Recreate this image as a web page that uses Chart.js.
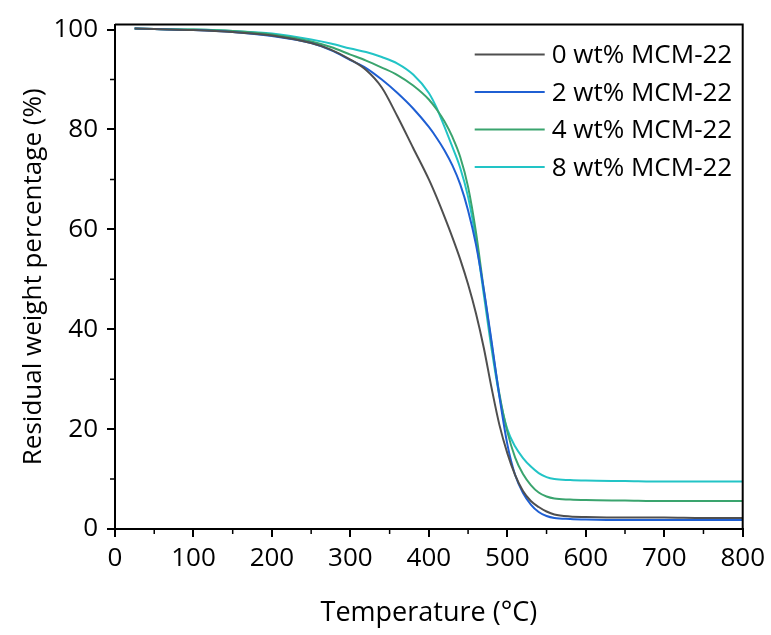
<!DOCTYPE html>
<html>
<head>
<meta charset="utf-8">
<script src="https://cdn.jsdelivr.net/npm/chart.js@4"></script>
<style>
html,body{margin:0;padding:0;background:#fff;}
#wrap{width:771px;height:635px;position:relative;}
</style>
</head>
<body>
<div id="wrap"><canvas id="c" width="771" height="635"></canvas></div>
<script>
const temperatures = [25,50,100,150,200,250,275,300,320,340,360,380,400,410,420,430,440,450,460,470,480,490,500,510,520,530,540,550,560,580,600,650,700,750,800];
const wt0 = [100.2,100.1,99.9,99.5,98.8,97.3,96.0,94.0,91.9,88.4,82.6,76.3,70.0,66.4,62.5,58.4,54.0,49.0,43.2,36.3,28.2,20.8,15.2,10.8,7.6,5.6,4.4,3.5,2.9,2.5,2.4,2.3,2.3,2.2,2.2];
const wt2 = [100.2,100.1,99.9,99.5,98.7,97.3,95.9,93.9,92.3,90.0,87.3,84.2,80.5,78.3,75.8,72.8,69.0,63.8,57.0,48.0,37.5,26.5,17.0,10.8,7.2,4.9,3.4,2.6,2.2,2.0,1.9,1.8,1.8,1.8,1.8];
const wt4 = [100.2,100.1,100.0,99.7,99.0,97.6,96.5,95.0,93.8,92.4,90.9,88.8,86.0,84.0,81.6,78.5,74.5,68.5,59.5,48.0,37.0,27.0,19.5,14.3,11.0,8.8,7.3,6.5,6.1,5.9,5.8,5.7,5.6,5.6,5.6];
const wt8 = [100.2,100.1,100.0,99.7,99.2,98.0,97.2,96.2,95.5,94.5,93.2,91.0,87.3,84.3,80.5,76.5,72.3,66.5,58.0,47.0,36.0,26.5,20.0,16.5,14.2,12.5,11.2,10.4,10.0,9.8,9.7,9.6,9.5,9.5,9.5];
const seriesLabels = ['0 wt% MCM-22','2 wt% MCM-22','4 wt% MCM-22','8 wt% MCM-22'];
const seriesColors = ['#4f4f4f','#1f5fd3','#3aa46e','#22c4c6'];
const xTicks = [0,100,200,300,400,500,600,700,800];
const yTicks = [0,20,40,60,80,100];
const xMinor = [50,150,250,350,450,550,650,750];
const yMinor = [10,30,50,70,90];

const FONT = "'Open Sans', sans-serif";
const allSeries = [wt0, wt2, wt4, wt8];
const datasets = allSeries.map((vals, i) => ({
  label: seriesLabels[i],
  data: temperatures.map((t, j) => ({x: t, y: vals[j]})),
  borderColor: seriesColors[i],
  backgroundColor: seriesColors[i],
  borderWidth: 2,
  pointRadius: 0,
  fill: false,
  cubicInterpolationMode: 'monotone'
}));

const framePlugin = {
  id: 'frame',
  afterDraw(chart) {
    const ctx = chart.ctx;
    const a = chart.chartArea;
    const xs = chart.scales.x, ys = chart.scales.y;
    ctx.save();
    ctx.strokeStyle = '#000';
    ctx.lineWidth = 2;
    ctx.beginPath();
    ctx.moveTo(a.left, a.top); ctx.lineTo(a.right, a.top); ctx.lineTo(a.right, a.bottom);
    ctx.stroke();
    // minor ticks
    ctx.lineWidth = 1.5;
    ctx.beginPath();
    xMinor.forEach(v => { const p = xs.getPixelForValue(v); ctx.moveTo(p, a.bottom); ctx.lineTo(p, a.bottom + 5); });
    yMinor.forEach(v => { const p = ys.getPixelForValue(v); ctx.moveTo(a.left, p); ctx.lineTo(a.left - 5, p); });
    ctx.stroke();
    // legend
    ctx.font = "26px " + FONT;
    ctx.textBaseline = 'middle';
    ctx.textAlign = 'left';
    chart.data.datasets.forEach((ds, i) => {
      const y = a.top + 30 + i * 37.5;
      const x0 = a.right - 268;
      ctx.strokeStyle = ds.borderColor;
      ctx.lineWidth = 2;
      ctx.beginPath(); ctx.moveTo(x0, y); ctx.lineTo(x0 + 70, y); ctx.stroke();
      ctx.fillStyle = '#000';
      ctx.fillText(ds.label, x0 + 77, y + 1);
    });
    ctx.restore();
  }
};

new Chart(document.getElementById('c'), {
  type: 'line',
  data: { datasets },
  options: {
    responsive: false,
    animation: false,
    devicePixelRatio: 1,
    layout: { padding: { top: 23, right: 28, left: 0, bottom: 0 } },
    plugins: { legend: { display: false }, tooltip: { enabled: false } },
    scales: {
      x: {
        type: 'linear', min: 0, max: 800,
        afterFit(s) { s.height = 106; },
        afterBuildTicks(s) { s.ticks = xTicks.map(v => ({value: v})); },
        ticks: { color: '#000', font: { family: FONT, size: 26 }, padding: 6, maxRotation: 0, autoSkip: false },
        grid: { drawOnChartArea: false, drawTicks: true, tickLength: 8, color: '#000', lineWidth: 2 },
        border: { color: '#000', width: 2 },
        title: { display: true, text: 'Temperature (°C)', color: '#000', font: { family: FONT, size: 27 }, padding: { top: 0, bottom: 5 } }
      },
      y: {
        type: 'linear', min: 0, max: 101,
        afterFit(s) { s.width = 115; },
        afterBuildTicks(s) { s.ticks = yTicks.map(v => ({value: v})); },
        ticks: { color: '#000', font: { family: FONT, size: 26 }, padding: 9, autoSkip: false },
        grid: { drawOnChartArea: false, drawTicks: true, tickLength: 8, color: '#000', lineWidth: 2 },
        border: { color: '#000', width: 2 },
        title: { display: true, text: 'Residual weight percentage (%)', color: '#000', font: { family: FONT, size: 26 }, padding: { top: 18, bottom: 0 } }
      }
    }
  },
  plugins: [framePlugin]
});
</script>
</body>
</html>
